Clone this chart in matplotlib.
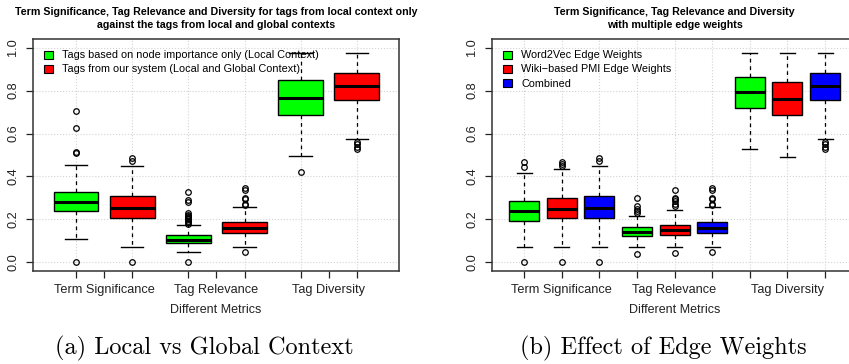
import matplotlib
matplotlib.use("Agg")
import matplotlib.pyplot as plt
from matplotlib.patches import Patch

plt.rcParams['font.family'] = ['Liberation Sans', 'DejaVu Sans']

metrics = ["Term Significance", "Tag Relevance", "Tag Diversity"]

# box stats per metric: q1, median, q3, whisker low, whisker high, outliers
# left panel: node importance only (green)
node_q1 = [0.237, 0.092, 0.688]
node_med = [0.283, 0.106, 0.767]
node_q3 = [0.330, 0.126, 0.849]
node_lo = [0.108, 0.047, 0.495]
node_hi = [0.452, 0.173, 0.977]
node_out = [[0.0, 0.511, 0.513, 0.627, 0.706],
            [0.0, 0.180, 0.188, 0.195, 0.200, 0.205, 0.210, 0.216, 0.222, 0.228, 0.283, 0.290, 0.326],
            [0.422]]

# our system / combined (red on left, blue on right)
sys_q1 = [0.209, 0.137, 0.757]
sys_med = [0.254, 0.162, 0.819]
sys_q3 = [0.310, 0.188, 0.882]
sys_lo = [0.073, 0.073, 0.574]
sys_hi = [0.451, 0.256, 0.977]
sys_out = [[0.0, 0.472, 0.487],
           [0.047, 0.266, 0.272, 0.295, 0.302, 0.337, 0.347],
           [0.528, 0.538, 0.549, 0.561]]

# right panel: word2vec (green)
w2v_q1 = [0.191, 0.121, 0.719]
w2v_med = [0.240, 0.143, 0.795]
w2v_q3 = [0.287, 0.164, 0.861]
w2v_lo = [0.073, 0.070, 0.529]
w2v_hi = [0.414, 0.216, 0.977]
w2v_out = [[0.0, 0.445, 0.467],
           [0.037, 0.231, 0.239, 0.247, 0.262, 0.298],
           []]

# right panel: wiki PMI (red)
pmi_q1 = [0.205, 0.129, 0.685]
pmi_med = [0.248, 0.150, 0.759]
pmi_q3 = [0.299, 0.175, 0.839]
pmi_lo = [0.073, 0.073, 0.491]
pmi_hi = [0.437, 0.242, 0.977]
pmi_out = [[0.0, 0.448, 0.457, 0.467],
           [0.045, 0.262, 0.270, 0.285, 0.293, 0.301, 0.336],
           []]

GREEN, RED, BLUE = "#00ff00", "#ff0000", "#0000ff"


def stats(q1, med, q3, lo, hi, out, i):
    return dict(q1=q1[i], med=med[i], q3=q3[i], whislo=lo[i], whishi=hi[i],
                fliers=out[i])


def draw_panel(ax, series, colors, xlim, title, labels):
    ns = len(series)
    allstats, pos, cols = [], [], []
    for m in range(3):
        for s in range(ns):
            allstats.append(stats(*series[s], m))
            pos.append(m * ns + s + 1)
            cols.append(colors[s])

    ax.set_axisbelow(True)
    ax.yaxis.grid(True, color="#d3d3d3", linestyle=":", linewidth=0.8)
    for p in pos:
        ax.axvline(p, color="#d3d3d3", linestyle=":", linewidth=0.8, zorder=0)

    bp = ax.bxp(allstats, positions=pos, widths=0.8, patch_artist=True,
                showfliers=True,
                boxprops=dict(edgecolor="black", linewidth=1),
                medianprops=dict(color="black", linewidth=2.2),
                whiskerprops=dict(color="black", linewidth=0.9, linestyle=(0, (3, 3))),
                capprops=dict(color="black", linewidth=1),
                flierprops=dict(marker="o", markersize=4, markerfacecolor="none",
                                markeredgecolor="black", markeredgewidth=0.9))
    for b, c in zip(bp["boxes"], cols):
        b.set_facecolor(c)
    for cap in bp["caps"]:
        x = cap.get_xdata()
        mid = (x[0] + x[1]) / 2
        cap.set_xdata([mid - 0.2, mid + 0.2])

    ax.set_xlim(*xlim)
    ax.set_ylim(-0.04, 1.04)
    ax.set_yticks([0.0, 0.2, 0.4, 0.6, 0.8, 1.0])
    ax.set_yticklabels(["0.0", "0.2", "0.4", "0.6", "0.8", "1.0"], rotation=90, va="center")

    centers = [m * ns + (ns + 1) / 2 for m in range(3)]
    ticks = sorted(set(pos) | set(centers))
    ax.set_xticks(ticks)
    ax.set_xticklabels([metrics[centers.index(t)] if t in centers else "" for t in ticks])

    ax.tick_params(axis="both", length=5, width=0.9, labelsize=9.2, colors="#222222",
                   labelcolor="#222222")
    ax.tick_params(axis="x", pad=4)
    ax.tick_params(axis="y", pad=5)
    for sp in ax.spines.values():
        sp.set_linewidth(1.1)
        sp.set_color("#333333")
    ax.set_xlabel("Different Metrics", fontsize=9, labelpad=6, color="#222222")
    ax.set_title(title, fontsize=7.7, fontweight="bold", pad=8, linespacing=1.35)

    handles = [Patch(facecolor=c, edgecolor="black", linewidth=0.8) for c in colors]
    ax.legend(handles, labels, loc="upper left", frameon=False, fontsize=7.8,
              handlelength=0.75, handleheight=0.75, handletextpad=0.9,
              labelspacing=0.38, borderaxespad=0.65)


fig = plt.figure(figsize=(8.49, 3.64), dpi=100)
W, H = 849, 364
ax1 = fig.add_axes([33 / W, (H - 271) / H, 366 / W, 232 / H])
ax2 = fig.add_axes([492 / W, (H - 271) / H, 365 / W, 232 / H])

node = (node_q1, node_med, node_q3, node_lo, node_hi, node_out)
system = (sys_q1, sys_med, sys_q3, sys_lo, sys_hi, sys_out)
w2v = (w2v_q1, w2v_med, w2v_q3, w2v_lo, w2v_hi, w2v_out)
pmi = (pmi_q1, pmi_med, pmi_q3, pmi_lo, pmi_hi, pmi_out)

draw_panel(ax1, [node, system], [GREEN, RED], (0.235, 6.75),
           "Term Significance, Tag Relevance and Diversity for tags from local context only\n"
           "against the tags from local and global contexts",
           ["Tags based on node importance only (Local Context)",
            "Tags from our system (Local and Global Context)"])
draw_panel(ax2, [w2v, pmi, system], [GREEN, RED, BLUE], (0.147, 9.85),
           "Term Significance, Tag Relevance and Diversity\nwith multiple edge weights",
           ["Word2Vec Edge Weights", "Wiki\u2212based PMI Edge Weights", "Combined"])

fig.text(204 / W, 1 - 348 / H, "(a) Local vs Global Context", family="cmr10",
         fontsize=17.5, ha="center", va="center")
fig.text(663.5 / W, 1 - 348 / H, "(b) Effect of Edge Weights", family="cmr10",
         fontsize=17.5, ha="center", va="center")

fig.savefig("out.png", dpi=100)
